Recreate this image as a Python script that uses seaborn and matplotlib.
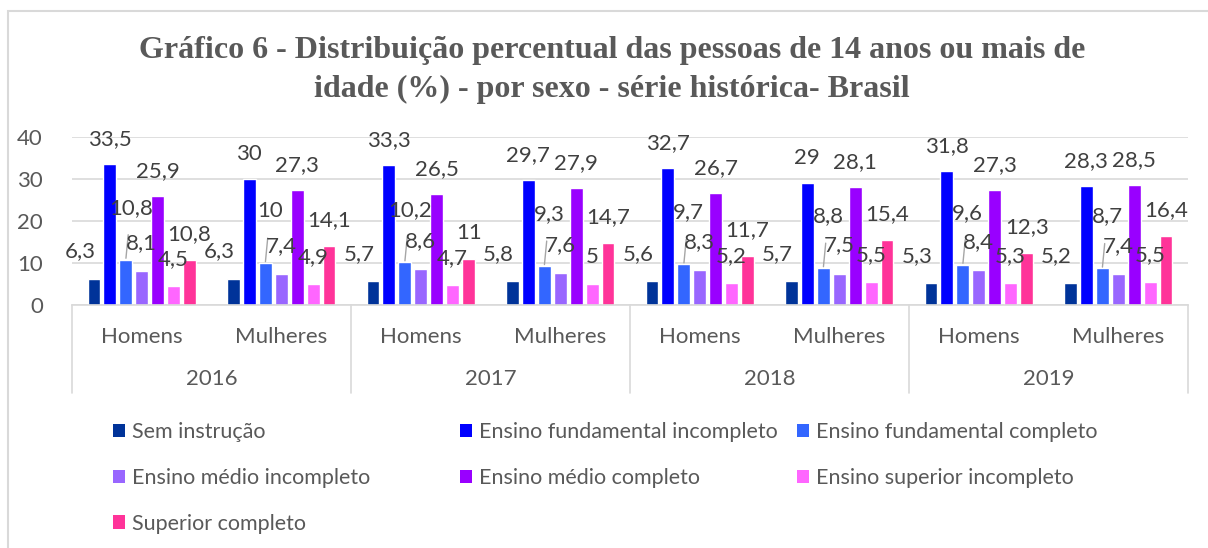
import numpy as np
import pandas as pd
import seaborn as sns
import matplotlib.pyplot as plt
from matplotlib.patches import Patch, Rectangle

anos = ['2016', '2017', '2018', '2019']
sexos = ['Homens', 'Mulheres']
niveis = ['Sem instrução', 'Ensino fundamental incompleto', 'Ensino fundamental completo',
          'Ensino médio incompleto', 'Ensino médio completo', 'Ensino superior incompleto',
          'Superior completo']
cores = ['#003399', '#0000FF', '#3366FF', '#9966FF', '#9900FF', '#FF66FF', '#FF3399']

# one list per education level, order: 2016 H, 2016 M, 2017 H, 2017 M, ...
sem_instrucao = [6.3, 6.3, 5.7, 5.8, 5.6, 5.7, 5.3, 5.2]
fund_incompleto = [33.5, 30, 33.3, 29.7, 32.7, 29, 31.8, 28.3]
fund_completo = [10.8, 10, 10.2, 9.3, 9.7, 8.8, 9.6, 8.7]
medio_incompleto = [8.1, 7.4, 8.6, 7.6, 8.3, 7.5, 8.4, 7.4]
medio_completo = [25.9, 27.3, 26.5, 27.9, 26.7, 28.1, 27.3, 28.5]
sup_incompleto = [4.5, 4.9, 4.7, 5, 5.2, 5.5, 5.3, 5.5]
sup_completo = [10.8, 14.1, 11, 14.7, 11.7, 15.4, 12.3, 16.4]

series = [sem_instrucao, fund_incompleto, fund_completo, medio_incompleto,
          medio_completo, sup_incompleto, sup_completo]
grupos = [a + ' ' + s for a in anos for s in sexos]

linhas = []
for nivel, vals in zip(niveis, series):
    for g, v in zip(grupos, vals):
        linhas.append({'grupo': g, 'nivel': nivel, 'valor': v})
df = pd.DataFrame(linhas)

sns.set_style('white')
plt.rcParams['font.family'] = ['Lato', 'DejaVu Sans']

fig = plt.figure(figsize=(12.08, 5.48), dpi=100)
ax = fig.add_axes([72 / 1208, 1 - 305 / 548, (1188 - 72) / 1208, 168 / 548])

sns.barplot(data=df, x='grupo', y='valor', hue='nivel', order=grupos, hue_order=niveis,
            palette=cores, width=0.8, gap=0.2, legend=False, ax=ax, saturation=1)

ax.set_xlim(-0.5, len(grupos) - 0.5)
ax.set_ylim(0, 40)
ax.set_yticks([0, 10, 20, 30, 40])
ax.yaxis.grid(True, color='#D9D9D9', lw=1.2)
ax.set_axisbelow(True)
for s in ['left', 'right', 'top']:
    ax.spines[s].set_visible(False)
ax.spines['bottom'].set_color('#D9D9D9')
ax.spines['bottom'].set_linewidth(1.2)
ax.tick_params(axis='both', length=0, labelsize=16, colors='#595959')
ax.tick_params(axis='y', pad=21)
ax.tick_params(axis='x', pad=16)
ax.set_xticks(range(len(grupos)))
ax.set_xticklabels([s for a in anos for s in sexos])
ax.set_xlabel('')
ax.set_ylabel('')

# two-level category axis
for i in range(len(anos) + 1):
    ax.plot([2 * i - 0.5] * 2, [0, -88 / 168], transform=ax.get_xaxis_transform(),
            color='#D9D9D9', lw=1.2, clip_on=False)
for i, a in enumerate(anos):
    ax.annotate(a, xy=(2 * i + 0.5, 0), xycoords=('data', 'axes fraction'),
                xytext=(0, -74), textcoords='offset pixels', ha='center', va='center',
                fontsize=16, color='#595959')

# data labels (offsets in pixels, leader lines for the crowded series)
offsets = {0: (-14, 27), 1: (0, 25), 2: (5, 52), 3: (0, 28), 4: (0, 25), 5: (0, 27), 6: (0, 26)}
for k, cont in enumerate(ax.containers):
    dx, dy = offsets[k]
    for bar, v in zip(cont, series[k]):
        xc = bar.get_x() + bar.get_width() / 2
        txt = ('%g' % v).replace('.', ',')
        props = None
        if k == 2:
            props = dict(arrowstyle='-', color='#A6A6A6', lw=1, shrinkA=10, shrinkB=1)
        ax.annotate(txt, xy=(xc, bar.get_height()), xytext=(dx, dy), textcoords='offset pixels',
                    ha='center', va='center', fontsize=16, color='#404040',
                    arrowprops=props, annotation_clip=False)

# title
fig.text(612 / 1208, 1 - 70 / 548,
         'Gráfico 6 - Distribuição percentual das pessoas de 14 anos ou mais de\n'
         'idade (%) - por sexo - série histórica- Brasil',
         ha='center', va='center', fontsize=23, fontweight='bold', color='#595959',
         family='Liberation Serif', linespacing=1.45)

# legend laid out like the original (row-wise, three columns)
handles = [Patch(facecolor=c, edgecolor='none') for c in cores]
colunas = [[0, 3, 6], [1, 4], [2, 5]]
xcols = [113, 460, 797]
for idx, xc in zip(colunas, xcols):
    fig.legend([handles[i] for i in idx], [niveis[i] for i in idx], loc='upper left',
               bbox_to_anchor=(xc / 1208, 1 - 422 / 548), frameon=False, fontsize=15.5,
               borderpad=0, borderaxespad=0, handlelength=0.58, handleheight=0.58,
               handletextpad=0.3, labelspacing=1.2, labelcolor='#595959')

fig.add_artist(Rectangle((8 / 1208, -0.2), 1.2, 1.2 - 11 / 548, transform=fig.transFigure,
                         fill=False, edgecolor='#D9D9D9', lw=1.5))

fig.savefig('out.png', dpi=100, facecolor='white')
